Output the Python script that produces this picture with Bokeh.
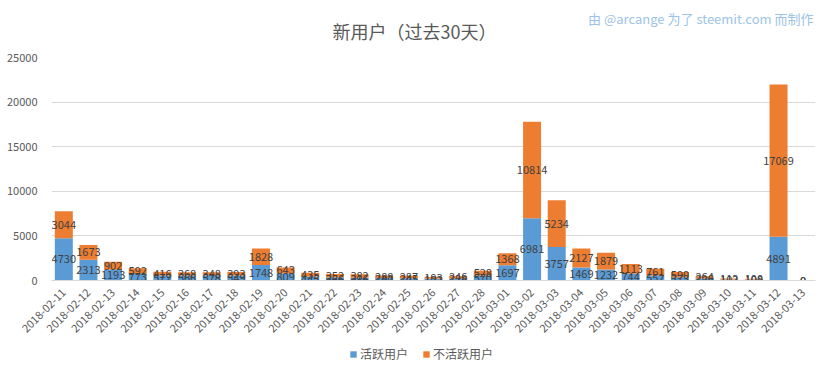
import math
from bokeh.plotting import figure
from bokeh.layouts import column
from bokeh.models import ColumnDataSource, FixedTicker, Legend, LegendItem, Range1d
from bokeh.core.properties import value
from bokeh.embed import file_html
from bokeh.resources import INLINE

dates = ["2018-02-11", "2018-02-12", "2018-02-13", "2018-02-14", "2018-02-15", "2018-02-16",
         "2018-02-17", "2018-02-18", "2018-02-19", "2018-02-20", "2018-02-21", "2018-02-22",
         "2018-02-23", "2018-02-24", "2018-02-25", "2018-02-26", "2018-02-27", "2018-02-28",
         "2018-03-01", "2018-03-02", "2018-03-03", "2018-03-04", "2018-03-05", "2018-03-06",
         "2018-03-07", "2018-03-08", "2018-03-09", "2018-03-10", "2018-03-11", "2018-03-12",
         "2018-03-13"]
active = [4730, 2313, 1193, 773, 572, 566, 578, 549, 1748, 809, 445, 366,
          316, 282, 245, 192, 228, 570, 1697, 6981, 3757, 1469, 1232, 744,
          552, 373, 226, 102, 100, 4891, 0]
inactive = [3044, 1673, 902, 592, 416, 368, 348, 393, 1828, 643, 435, 352,
            382, 288, 287, 193, 246, 528, 1368, 10814, 5234, 2127, 1879, 1113,
            761, 590, 264, 112, 108, 17069, 0]
series_names = ["活跃用户", "不活跃用户"]
y_ticks = [0, 5000, 10000, 15000, 20000, 25000]
title_text = "新用户（过去30天）"
credit_text = "由 @arcange 为了 steemit.com 而制作"

BLUE = "#5B9BD5"
ORANGE = "#ED7D31"
CJK = "Noto Sans CJK SC"
W = 817
H_HEAD, H_MAIN, H_LEG = 49, 297, 17
FRAME_L, FRAME_R = 51, 2   # frame borders; the column aligns all frames to these


def bare_figure(h, xr, yr):
    fig = figure(width=W, height=h, x_range=xr, y_range=yr,
                 output_backend="svg", toolbar_location=None,
                 x_axis_location=None, y_axis_location=None,
                 min_border_left=FRAME_L, min_border_right=FRAME_R,
                 min_border_top=0, min_border_bottom=0)
    fig.outline_line_color = None
    fig.grid.grid_line_color = None
    fig.background_fill_color = "white"
    fig.border_fill_color = "white"
    return fig


# ---- header (title + credit); x range chosen so data x equals pixel x ----
head = bare_figure(H_HEAD, Range1d(FRAME_L, W - FRAME_R), Range1d(0, H_HEAD))
head.text(x=[414], y=[H_HEAD - 30], text=[title_text], text_align="center",
          text_baseline="middle", text_font=value(CJK), text_font_size="18px",
          text_color="#595959")
head.text(x=[W - 4], y=[H_HEAD - 18], text=[credit_text], text_align="right",
          text_baseline="middle", text_font=value(CJK), text_font_size="13px",
          text_color="#9DC3E6")

# ---- main chart ----
source = ColumnDataSource(dict(
    date=dates,
    active=active,
    inactive=inactive,
    a_mid=[a / 2 for a in active],
    i_mid=[a + i / 2 for a, i in zip(active, inactive)],
    a_txt=[str(a) for a in active],
    i_txt=[str(i) for i in inactive],
))

p = figure(x_range=dates, y_range=Range1d(0, 25000), width=W, height=H_MAIN,
           output_backend="svg", toolbar_location=None,
           min_border_left=FRAME_L, min_border_right=FRAME_R, min_border_top=8,
           min_border_bottom=66)
p.outline_line_color = None
p.background_fill_color = "white"
p.border_fill_color = "white"

p.vbar_stack(["active", "inactive"], x="date", width=0.73, color=[BLUE, ORANGE],
             line_color=None, source=source)

tf = value(CJK)
p.text(x="date", y="a_mid", text="a_txt", source=source, text_align="center",
       text_baseline="middle", text_font=tf, text_font_size="11px", text_color="#404040")
p.text(x="date", y="i_mid", text="i_txt", source=source, text_align="center",
       text_baseline="middle", text_font=tf, text_font_size="11px", text_color="#404040")

p.yaxis.ticker = FixedTicker(ticks=y_ticks)
p.yaxis.axis_line_color = None
p.yaxis.major_tick_line_color = None
p.yaxis.minor_tick_line_color = None
p.yaxis.major_label_text_font = CJK
p.yaxis.major_label_text_font_size = "11px"
p.yaxis.major_label_text_color = "#595959"
p.yaxis.major_label_standoff = 8

p.xaxis.axis_line_color = "#D9D9D9"
p.xaxis.major_tick_line_color = None
p.xaxis.minor_tick_line_color = None
p.xaxis.major_label_orientation = math.pi / 4
p.xaxis.major_label_text_font = CJK
p.xaxis.major_label_text_font_size = "11px"
p.xaxis.major_label_text_color = "#595959"
p.xaxis.major_label_standoff = 4

p.xgrid.grid_line_color = None
p.ygrid.grid_line_color = "#D9D9D9"
p.x_range.range_padding = 0

# ---- legend strip ----
leg = bare_figure(H_LEG, Range1d(0, 1), Range1d(0, 1))
offscreen = ColumnDataSource(dict(x=[-10], top=[-10]))
r_a = leg.vbar(x="x", top="top", width=0.5, color=BLUE, line_color=None, source=offscreen)
r_i = leg.vbar(x="x", top="top", width=0.5, color=ORANGE, line_color=None, source=offscreen)
legend = Legend(items=[LegendItem(label=series_names[0], renderers=[r_a]),
                       LegendItem(label=series_names[1], renderers=[r_i])],
                orientation="horizontal", location=(298, 1))
legend.label_text_font = CJK
legend.label_text_font_size = "12px"
legend.label_text_color = "#595959"
legend.label_height = 14
legend.glyph_width = 8
legend.glyph_height = 8
legend.label_standoff = 3
legend.spacing = 14
legend.border_line_color = None
legend.background_fill_alpha = 0
legend.padding = 0
legend.margin = 0
leg.add_layout(legend)

layout = column(head, p, leg, spacing=0)
open("out.html", "w").write(file_html(layout, INLINE))
